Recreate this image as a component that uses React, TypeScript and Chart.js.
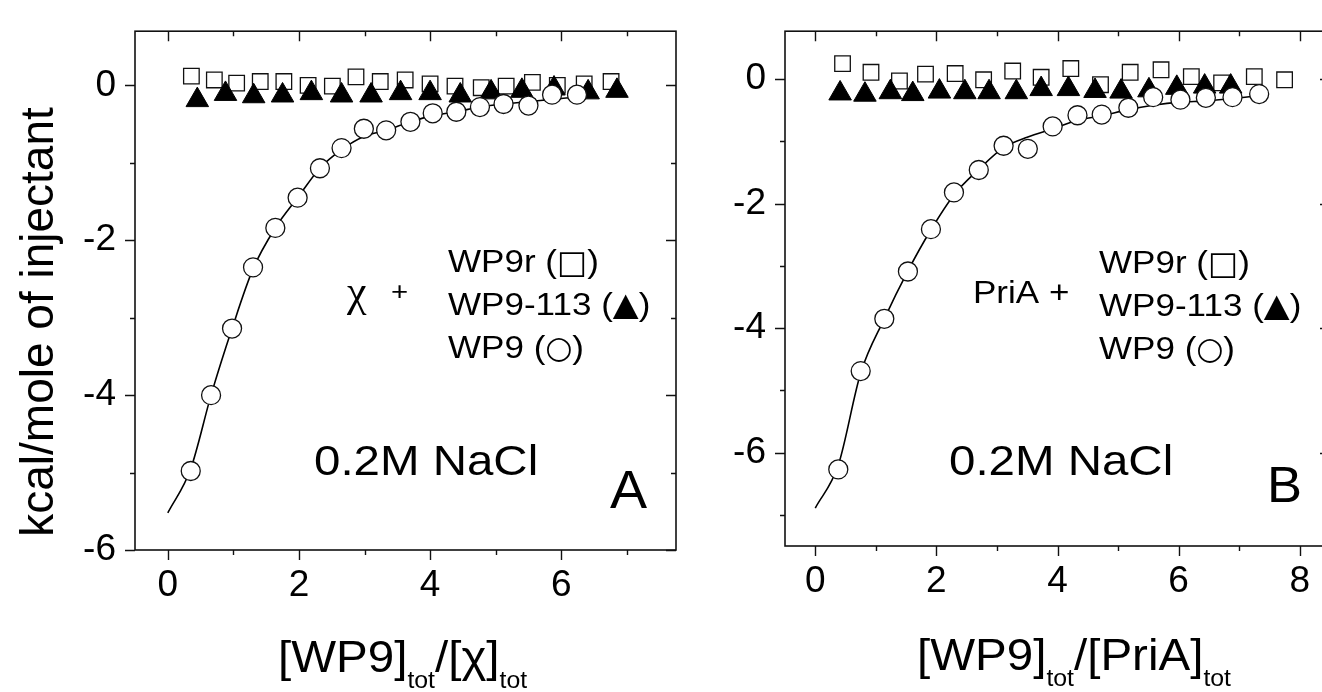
import React, { useEffect, useRef } from 'react';
import { Chart, registerables } from 'chart.js';
Chart.register(...registerables);

// ---------- Panel A : chi + ... ----------
const aCircleX = [0.35, 0.66, 0.98, 1.30, 1.64, 1.98, 2.32, 2.65, 2.99, 3.33, 3.70, 4.04, 4.40, 4.76, 5.12, 5.50, 5.86, 6.24];
const aCircleY = [-4.98, -4.0, -3.14, -2.35, -1.84, -1.45, -1.07, -0.81, -0.56, -0.58, -0.47, -0.36, -0.34, -0.28, -0.24, -0.26, -0.12, -0.12];
const aSquareX = [0.36, 0.71, 1.05, 1.41, 1.77, 2.14, 2.51, 2.87, 3.24, 3.62, 4.0, 4.38, 4.78, 5.16, 5.56, 5.94, 6.35, 6.76];
const aSquareY = [0.12, 0.07, 0.03, 0.05, 0.05, 0.0, -0.01, 0.11, 0.05, 0.07, 0.02, -0.01, -0.03, -0.01, 0.04, 0.0, 0.02, 0.05];
const aTriX = [0.45, 0.88, 1.31, 1.75, 2.19, 2.65, 3.1, 3.55, 4.0, 4.46, 4.93, 5.4, 5.89, 6.41, 6.85];
const aTriY = [-0.19, -0.11, -0.14, -0.13, -0.10, -0.13, -0.13, -0.10, -0.10, -0.13, -0.09, -0.07, -0.04, -0.09, -0.07];
const aFitX = [0, 0.35, 0.66, 0.98, 1.30, 1.64, 1.98, 2.32, 2.65, 2.99, 3.33, 3.70, 4.04, 4.40, 4.76, 5.12, 5.50, 5.86, 6.24, 6.4];
const aFitY = [-5.52, -4.95, -4.0, -3.14, -2.37, -1.84, -1.45, -1.07, -0.83, -0.66, -0.58, -0.47, -0.39, -0.34, -0.28, -0.24, -0.21, -0.18, -0.15, -0.13];
const aXTicks = [0, 1, 2, 3, 4, 5, 6, 7];
const aYTicks = [-6, -5, -4, -3, -2, -1, 0];
const aXMajor = [0, 2, 4, 6];
const aYMajor = [-6, -4, -2, 0];

// ---------- Panel B : PriA + ... ----------
const bCircleX = [0.38, 0.75, 1.14, 1.53, 1.91, 2.29, 2.70, 3.11, 3.51, 3.92, 4.33, 4.73, 5.17, 5.58, 6.03, 6.45, 6.89, 7.33];
const bCircleY = [-6.27, -4.69, -3.85, -3.09, -2.41, -1.82, -1.46, -1.07, -1.12, -0.76, -0.58, -0.57, -0.46, -0.29, -0.33, -0.30, -0.29, -0.24];
const bSquareX = [0.45, 0.92, 1.39, 1.82, 2.31, 2.78, 3.26, 3.73, 4.22, 4.71, 5.2, 5.71, 6.21, 6.71, 7.25, 7.75];
const bSquareY = [0.25, 0.11, -0.03, 0.08, 0.09, -0.01, 0.13, 0.03, 0.17, -0.09, 0.11, 0.15, 0.04, -0.06, 0.04, -0.01];
const bTriX = [0.41, 0.82, 1.24, 1.61, 2.05, 2.47, 2.87, 3.32, 3.73, 4.18, 4.62, 5.05, 5.51, 5.97, 6.43, 6.86];
const bTriY = [-0.23, -0.25, -0.21, -0.24, -0.20, -0.21, -0.21, -0.21, -0.16, -0.16, -0.19, -0.20, -0.18, -0.14, -0.12, -0.12];
const bFitX = [0, 0.38, 0.75, 1.14, 1.53, 1.91, 2.29, 2.7, 3.11, 3.51, 3.92, 4.33, 4.73, 5.17, 5.58, 6.03, 6.45, 6.89, 7.2];
const bFitY = [-6.89, -6.2, -4.72, -3.85, -3.08, -2.42, -1.86, -1.45, -1.1, -0.93, -0.8, -0.66, -0.59, -0.49, -0.42, -0.37, -0.35, -0.31, -0.28];
const bXTicks = [0, 1, 2, 3, 4, 5, 6, 7, 8];
const bYTicks = [-7, -6, -5, -4, -3, -2, -1, 0];
const bXMajor = [0, 2, 4, 6, 8];
const bYMajor = [-6, -4, -2, 0];

const SANS = '"Liberation Sans", "DejaVu Sans", Arial, sans-serif';
const SERIF = '"Liberation Serif", "DejaVu Serif", serif';
const SYM = '"DejaVu Sans", sans-serif';
const SX = 1.13;

const pts = (xs: number[], ys: number[]) => xs.map((x, i) => ({ x, y: ys[i] }));

type Part = { s: string; font: string; dy?: number; sx?: number };
type TextItem = { parts: Part[]; x: number; y: number; sx?: number };

function drawParts(ctx: CanvasRenderingContext2D, item: TextItem) {
  let cx = item.x;
  for (const p of item.parts) {
    const sx = p.sx ?? item.sx ?? SX;
    ctx.save();
    ctx.font = p.font;
    ctx.translate(cx, item.y + (p.dy ?? 0));
    ctx.scale(sx, 1);
    ctx.fillText(p.s, 0, 0);
    const w = ctx.measureText(p.s).width * sx;
    ctx.restore();
    cx += w;
  }
}

function makePlugin(xMajor: number[], yMajor: number[], offset: number, texts: TextItem[], yTitle: boolean) {
  return {
    id: 'decor',
    afterDraw(chart: any) {
      const { ctx, chartArea: a } = chart;
      const xs = chart.scales.x;
      const ys = chart.scales.y;
      ctx.save();
      ctx.strokeStyle = '#111';
      ctx.lineWidth = 1.6;
      ctx.strokeRect(a.left, a.top, a.right - a.left, a.bottom - a.top);
      ctx.lineWidth = 1.4;
      ctx.beginPath();
      xs.ticks.forEach((t: any) => {
        const px = Math.round(xs.getPixelForValue(t.value)) + 0.5;
        const L = xMajor.includes(t.value) ? 10 : 5;
        ctx.moveTo(px, a.bottom);
        ctx.lineTo(px, a.bottom + L);
        ctx.moveTo(px, a.top);
        ctx.lineTo(px, a.top + L);
      });
      ys.ticks.forEach((t: any) => {
        const py = Math.round(ys.getPixelForValue(t.value)) + 0.5;
        const L = yMajor.includes(t.value) ? 10 : 5;
        ctx.moveTo(a.left, py);
        ctx.lineTo(a.left - L, py);
        ctx.moveTo(a.right, py);
        ctx.lineTo(a.right - L, py);
      });
      ctx.stroke();

      ctx.fillStyle = '#000';
      ctx.textAlign = 'left';
      ctx.textBaseline = 'alphabetic';
      ctx.translate(-offset, 0);
      texts.forEach((t) => drawParts(ctx, t));
      ctx.restore();

      if (yTitle) {
        ctx.save();
        ctx.fillStyle = '#000';
        ctx.font = '46px ' + SANS;
        ctx.textAlign = 'center';
        ctx.textBaseline = 'middle';
        ctx.translate(40, 322);
        ctx.rotate(-Math.PI / 2);
        ctx.fillText('kcal/mole of injectant', 0, 0);
        ctx.restore();
      }
    },
  };
}

function makeConfig(
  d: { cx: number[]; cy: number[]; sqx: number[]; sqy: number[]; tx: number[]; ty: number[]; fx: number[]; fy: number[] },
  xr: [number, number], yr: [number, number],
  xTicks: number[], yTicks: number[], xMajor: number[], yMajor: number[],
  yWidth: number, pad: { left: number; top: number; right: number; bottom: number },
  plugin: any
) {
  const tickFont = { family: SANS, size: 37 };
  return {
    type: 'scatter' as const,
    data: {
      datasets: [
        {
          label: 'WP9', data: pts(d.cx, d.cy), order: 1, pointStyle: 'circle', pointRadius: 9.5,
          pointBackgroundColor: '#fff', pointBorderColor: '#111', pointBorderWidth: 1.3, showLine: false,
        },
        {
          label: 'WP9-113', data: pts(d.tx, d.ty), order: 2, pointStyle: 'triangle', pointRadius: 13,
          pointBackgroundColor: '#000', pointBorderColor: '#000', pointBorderWidth: 1, showLine: false,
        },
        {
          label: 'WP9r', data: pts(d.sqx, d.sqy), order: 3, pointStyle: 'rect', pointRadius: 11,
          pointBackgroundColor: '#fff', pointBorderColor: '#111', pointBorderWidth: 1.3, showLine: false,
        },
        {
          label: 'fit', data: pts(d.fx, d.fy), order: 4, showLine: true, pointRadius: 0,
          borderColor: '#000', borderWidth: 1.6, cubicInterpolationMode: 'monotone', fill: false,
        },
      ],
    },
    options: {
      animation: false,
      responsive: false,
      events: [],
      layout: { padding: pad, autoPadding: false },
      plugins: { legend: { display: false }, tooltip: { enabled: false }, title: { display: false } },
      scales: {
        x: {
          type: 'linear', min: xr[0], max: xr[1],
          border: { display: false },
          grid: { display: true, drawOnChartArea: false, drawTicks: true, tickLength: 10, tickColor: 'rgba(0,0,0,0)' },
          afterBuildTicks: (s: any) => { s.ticks = xTicks.map((v) => ({ value: v })); },
          ticks: {
            autoSkip: false, maxRotation: 0, padding: 4,
            color: '#000', font: tickFont,
            callback: (v: number) => (xMajor.includes(v) ? String(v) : ''),
          },
          afterFit: (s: any) => { s.height = 60; },
        },
        y: {
          type: 'linear', min: yr[0], max: yr[1],
          border: { display: false },
          grid: { display: true, drawOnChartArea: false, drawTicks: true, tickLength: 10, tickColor: 'rgba(0,0,0,0)' },
          afterBuildTicks: (s: any) => { s.ticks = yTicks.map((v) => ({ value: v })); },
          ticks: {
            autoSkip: false, padding: 9,
            color: '#000', font: tickFont,
            callback: (v: number) => (yMajor.includes(v) ? String(v) : ''),
          },
          afterFit: (s: any) => { s.width = yWidth; },
        },
      },
    },
    plugins: [plugin],
  };
}

const LBL = '31px ' + SANS;
const legendLines = (x: number, y0: number, dy: number): TextItem[] => [
  { parts: [{ s: 'WP9r (', font: LBL }, { s: '□', font: '32px ' + SYM, sx: 1, dy: 1 }, { s: ')', font: LBL }], x, y: y0 },
  { parts: [{ s: 'WP9-113 (', font: LBL }, { s: '▲', font: '32px ' + SYM, sx: 1.05 }, { s: ')', font: LBL }], x, y: y0 + dy },
  { parts: [{ s: 'WP9 (', font: LBL }, { s: '○', font: '31px ' + SYM, sx: 1 }, { s: ')', font: LBL }], x, y: y0 + 2 * dy },
];

const textsA: TextItem[] = [
  { parts: [{ s: 'χ', font: '44px ' + SERIF }], x: 347, y: 306, sx: 1 },
  { parts: [{ s: '+', font: '26px ' + SANS }], x: 391, y: 300 },
  ...legendLines(448, 272, 43),
  { parts: [{ s: '0.2M NaCl', font: '42px ' + SANS }], x: 314, y: 475 },
  { parts: [{ s: 'A', font: '53px ' + SANS }], x: 610, y: 508, sx: 1.05 },
  {
    parts: [
      { s: '[WP9]', font: '44px ' + SANS },
      { s: 'tot', font: '23px ' + SANS, dy: 16 },
      { s: '/[χ]', font: '44px ' + SANS },
      { s: 'tot', font: '23px ' + SANS, dy: 16 },
    ],
    x: 278, y: 672, sx: 1.08,
  },
];

const textsB: TextItem[] = [
  { parts: [{ s: 'PriA +', font: '31px ' + SANS }], x: 973, y: 303 },
  ...legendLines(1099, 273, 43),
  { parts: [{ s: '0.2M NaCl', font: '42px ' + SANS }], x: 949, y: 475 },
  { parts: [{ s: 'B', font: '50px ' + SANS }], x: 1267, y: 502, sx: 1.05 },
  {
    parts: [
      { s: '[WP9]', font: '44px ' + SANS },
      { s: 'tot', font: '23px ' + SANS, dy: 16 },
      { s: '/[PriA]', font: '44px ' + SANS },
      { s: 'tot', font: '23px ' + SANS, dy: 16 },
    ],
    x: 917, y: 670, sx: 1.08,
  },
];

export default function App() {
  const refA = useRef<HTMLCanvasElement>(null);
  const refB = useRef<HTMLCanvasElement>(null);

  useEffect(() => {
    const ca = new Chart(
      refA.current as HTMLCanvasElement,
      makeConfig(
        { cx: aCircleX, cy: aCircleY, sqx: aSquareX, sqy: aSquareY, tx: aTriX, ty: aTriY, fx: aFitX, fy: aFitY },
        [-0.5, 7.75], [-6, 0.7], aXTicks, aYTicks, aXMajor, aYMajor, 135,
        { left: 0, top: 17, right: 24, bottom: 82 },
        makePlugin(aXMajor, aYMajor, 0, textsA, true)
      ) as any
    );
    const cb = new Chart(
      refB.current as HTMLCanvasElement,
      makeConfig(
        { cx: bCircleX, cy: bCircleY, sqx: bSquareX, sqy: bSquareY, tx: bTriX, ty: bTriY, fx: bFitX, fy: bFitY },
        [-0.5, 8.5], [-7.5, 0.77], bXTicks, bYTicks, bXMajor, bYMajor, 105,
        { left: 0, top: 15, right: 30, bottom: 86 },
        makePlugin(bXMajor, bYMajor, 680, textsB, false)
      ) as any
    );
    return () => {
      ca.destroy();
      cb.destroy();
    };
  }, []);

  return (
    <div style={{ position: 'fixed', left: 0, top: 0, width: 1322, height: 692, overflow: 'hidden', background: '#fff' }}>
      <canvas ref={refA} width={700} height={692} style={{ position: 'absolute', left: 0, top: 0, width: 700, height: 692 }} />
      <canvas ref={refB} width={680} height={692} style={{ position: 'absolute', left: 680, top: 0, width: 680, height: 692 }} />
    </div>
  );
}
